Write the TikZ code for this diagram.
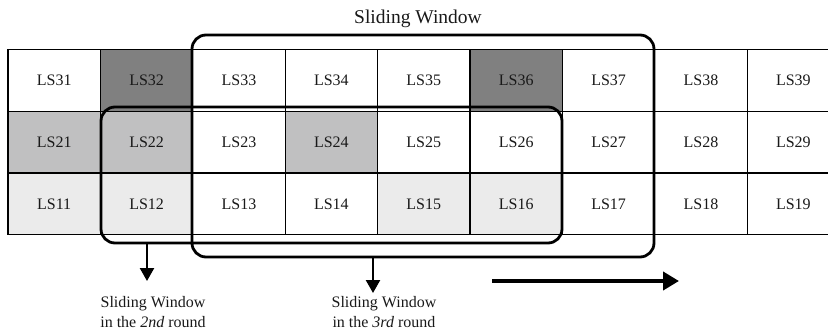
\documentclass[tikz,border=0pt]{standalone}
\usepackage{fontspec}
\setmainfont{Liberation Serif}
\usepackage{xcolor}
\usepackage{tikz}
\usetikzlibrary{arrows.meta,positioning,calc}
\definecolor{CellDark}{HTML}{808080}
\definecolor{CellMid}{HTML}{C0C0C1}
\definecolor{CellLight}{HTML}{EBEBEB}

\begin{document}
\begin{tikzpicture}[
  x=1pt, y=-1pt,
  cell/.style={draw, line width=1.2pt, minimum width=92.4pt, minimum height=61.7pt,
    inner sep=0pt, outer sep=0pt, text=black!90, font=\fontsize{16}{18}\selectfont},
  s32/.style={fill=CellDark}, s36/.style={fill=CellDark},
  s21/.style={fill=CellMid}, s22/.style={fill=CellMid}, s24/.style={fill=CellMid},
  s11/.style={fill=CellLight}, s12/.style={fill=CellLight},
  s15/.style={fill=CellLight}, s16/.style={fill=CellLight},
  window/.style={draw, line width=2.8pt, rounded corners=14pt, inner sep=0pt},
  note/.style={align=center, text=black!90, font=\fontsize{16}{19.5}\selectfont},
  down/.style={-{Triangle[length=13pt,width=14pt]}, line width=2.4pt},
  move/.style={-{Triangle[length=16pt,width=18pt]}, line width=4pt}
]
\useasboundingbox (0,0) rectangle (828,329);

% the grid of cells, rows 3 (top) to 1 (bottom)
\foreach \r/\y in {3/80.5,2/142,1/204}
  \foreach \c in {1,...,9}
    \node[cell, s\r\c/.try] (ls\r\c) at ({8+(\c-0.5)*92.4},\y) {LS\r\c};

% the two windows
\node[window, minimum width=461pt, minimum height=136pt] (win2) at (331.5,175) {};
\node[window, minimum width=462pt, minimum height=222pt] (win3) at (423,146) {};

\node[note, font=\fontsize{19.5}{22}\selectfont] (title) at (418,19) {Sliding Window};
\node[note] (lab2) at (153,312) {Sliding Window\\in the \textit{2nd} round};
\node[note] (lab3) at (384,312) {Sliding Window\\in the \textit{3rd} round};

\draw[down] (win2.south -| 147,0) -- (147,281);
\draw[down] (win3.south -| 373,0) -- (373,293);

\coordinate (mv0) at (492,281);
\coordinate (mv1) at (679,281);
\draw[move] (mv0) -- (mv1);
\end{tikzpicture}
\end{document}
